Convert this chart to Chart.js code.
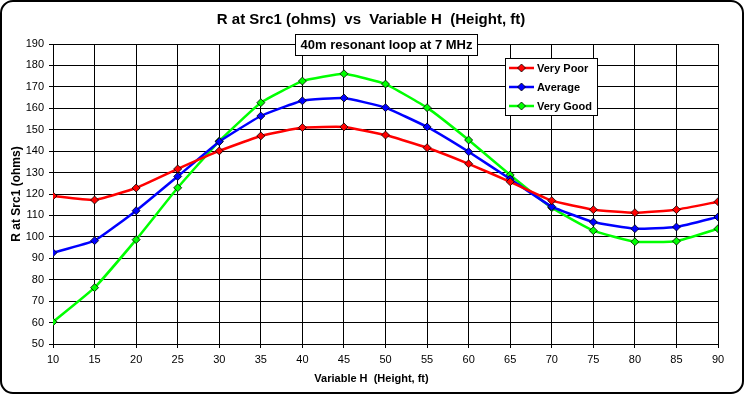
<!DOCTYPE html>
<html>
<head>
<meta charset="utf-8">
<script src="https://cdn.jsdelivr.net/npm/chart.js@4.4.1/dist/chart.umd.min.js"></script>
<style>
  html, body { margin: 0; padding: 0; background: #fff; }
  #wrap { width: 745px; height: 395px; position: relative; }
</style>
</head>
<body>
<div id="wrap"><canvas id="chart-r-src1"></canvas></div>
<script>
// R at Src1 vs height, 40m loop
const heights = [10, 15, 20, 25, 30, 35, 40, 45, 50, 55, 60, 65, 70, 75, 80, 85, 90];
const veryPoor = [119.1, 117.2, 122.8, 131.7, 140.1, 147.1, 151.0, 151.3, 147.5, 141.6, 134.1, 125.7, 116.9, 112.7, 111.3, 112.7, 116.4];
const average = [92.6, 98.2, 112.2, 128.2, 144.4, 156.4, 163.5, 164.8, 160.3, 151.3, 139.7, 127.0, 114.1, 106.9, 103.8, 104.6, 109.3];
const veryGood = [60.3, 76.3, 98.7, 122.9, 144.7, 162.6, 172.7, 176.1, 171.3, 160.3, 145.2, 128.9, 113.6, 102.9, 97.7, 98.0, 103.8];
const seriesNames = ['Very Poor', 'Average', 'Very Good'];
const seriesColors = ['#ff0000', '#0000ff', '#00ff00'];

const chartTitle = 'R at Src1 (ohms)  vs  Variable H  (Height, ft)';
const subTitle = '40m resonant loop at 7 MHz';
const xTitle = 'Variable H  (Height, ft)';
const yTitle = 'R at Src1 (ohms)';

const FONT = '"Liberation Sans", Arial, sans-serif';
Chart.defaults.font.family = FONT;
Chart.defaults.color = '#000';

function toPoints(values) {
    return values.map((v, i) => ({ x: heights[i], y: v }));
}

function makeDataset(idx, values) {
    return {
        label: seriesNames[idx],
        data: toPoints(values),
        borderColor: seriesColors[idx],
        backgroundColor: seriesColors[idx],
        borderWidth: 2.5,
        tension: 0.12,
        pointStyle: 'rectRot',
        pointRadius: 4,
        pointBackgroundColor: seriesColors[idx],
        pointBorderColor: '#000',
        pointBorderWidth: 0.8,
        fill: false,
    };
}

const decorPlugin = {
    id: 'decor',
    beforeDraw(chart) {
        const ctx = chart.ctx;
        ctx.save();
        ctx.fillStyle = '#fff';
        ctx.fillRect(0, 0, chart.width, chart.height);
        ctx.restore();
    },
    afterDraw(chart) {
        const ctx = chart.ctx;
        ctx.save();

        // outer rounded frame
        ctx.strokeStyle = '#000';
        ctx.lineWidth = 2;
        ctx.beginPath();
        ctx.roundRect(1, 1, 742, 392, 12);
        ctx.stroke();

        // title
        ctx.fillStyle = '#000';
        ctx.font = 'bold 15px ' + FONT;
        ctx.textAlign = 'center';
        ctx.textBaseline = 'middle';
        ctx.fillText(chartTitle, 371, 20);

        // x axis title, centred on the whole chart like the original
        ctx.font = 'bold 11px ' + FONT;
        ctx.fillText(xTitle, 371.5, 379);

        // subtitle box
        ctx.fillStyle = '#fff';
        ctx.fillRect(295.5, 34.5, 182, 21);
        ctx.lineWidth = 1;
        ctx.strokeRect(295.5, 34.5, 182, 21);
        ctx.fillStyle = '#000';
        ctx.font = 'bold 13px ' + FONT;
        ctx.fillText(subTitle, 386.5, 45);

        // legend box
        ctx.fillStyle = '#fff';
        ctx.fillRect(505.5, 58.5, 92, 57);
        ctx.strokeRect(505.5, 58.5, 92, 57);
        ctx.font = 'bold 11px ' + FONT;
        ctx.textAlign = 'left';
        const rows = [68, 87, 106];
        chart.data.datasets.forEach((ds, i) => {
            const y = rows[i];
            ctx.strokeStyle = ds.borderColor;
            ctx.lineWidth = 2.5;
            ctx.beginPath();
            ctx.moveTo(509, y);
            ctx.lineTo(534, y);
            ctx.stroke();
            ctx.fillStyle = ds.borderColor;
            ctx.strokeStyle = '#000';
            ctx.lineWidth = 0.8;
            ctx.beginPath();
            ctx.moveTo(521.5, y - 4);
            ctx.lineTo(525.5, y);
            ctx.lineTo(521.5, y + 4);
            ctx.lineTo(517.5, y);
            ctx.closePath();
            ctx.fill();
            ctx.stroke();
            ctx.fillStyle = '#000';
            ctx.fillText(ds.label, 537, y + 0.5);
        });

        ctx.restore();
    },
};

const canvas = document.getElementById('chart-r-src1');
new Chart(canvas, {
    type: 'line',
    data: {
        datasets: [
            makeDataset(0, veryPoor),
            makeDataset(1, average),
            makeDataset(2, veryGood),
        ],
    },
    plugins: [decorPlugin],
    options: {
        responsive: true,
        maintainAspectRatio: false,
        animation: false,
        layout: { padding: { left: 0, right: 27, top: 44, bottom: 0 } },
        plugins: {
            legend: { display: false },
            title: { display: false },
            tooltip: { enabled: false },
        },
        scales: {
            x: {
                type: 'linear',
                min: 10,
                max: 90,
                ticks: { stepSize: 5, color: '#000', font: { size: 11 }, padding: 5 },
                grid: { color: '#000', lineWidth: 1, tickLength: 4 },
                border: { color: '#000', width: 1 },
                afterFit: s => { s.height = 51; },
            },
            y: {
                min: 50,
                max: 190,
                ticks: { stepSize: 10, color: '#000', font: { size: 11 }, padding: 5 },
                grid: { color: '#000', lineWidth: 1, tickLength: 4 },
                border: { color: '#000', width: 1 },
                title: {
                    display: true,
                    text: yTitle,
                    color: '#000',
                    font: { size: 12, weight: 'bold' },
                    padding: { top: 9, bottom: 0 },
                },
                afterFit: s => { s.width = 53; },
            },
        },
    },
});
</script>
</body>
</html>
